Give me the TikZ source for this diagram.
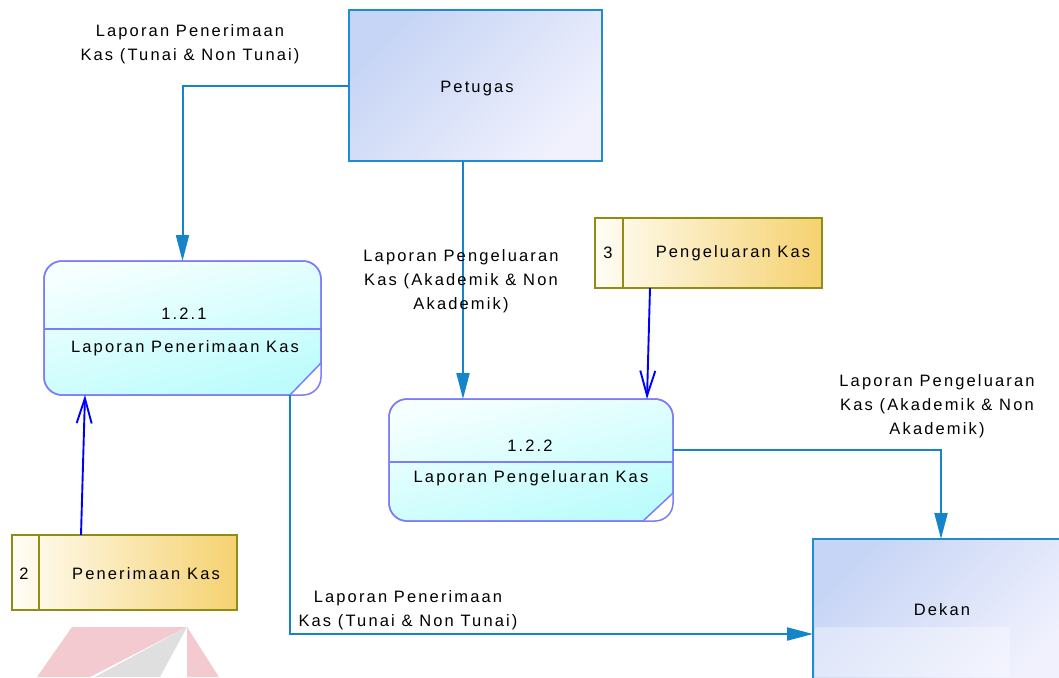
\documentclass[tikz,border=0pt]{standalone}
\usepackage{fontspec}
\setmainfont{Liberation Sans}[LetterSpace=13]
\usetikzlibrary{arrows.meta}

% palette
\definecolor{flowc}{RGB}{22,132,200}
\definecolor{dataflow}{RGB}{0,0,250}
\definecolor{entline}{RGB}{30,140,205}
\definecolor{entA}{RGB}{198,212,245}
\definecolor{entB}{RGB}{240,241,253}
\definecolor{procline}{RGB}{125,125,250}
\definecolor{procA}{RGB}{246,255,255}
\definecolor{procB}{RGB}{188,252,252}
\definecolor{storeline}{RGB}{145,140,20}
\definecolor{storeA}{RGB}{255,253,246}
\definecolor{storeB}{RGB}{245,210,112}
\definecolor{markpink}{RGB}{243,202,207}
\definecolor{markgray}{RGB}{223,223,223}

\tikzset{
  entity/.style={draw=entline, line width=1.6pt, top color=entA, bottom color=entB,
    shading angle=45, inner sep=0pt, outer sep=0pt},
  proc/.style={draw=procline, line width=1.5pt, rounded corners=18pt,
    top color=procA, bottom color=procB, shading angle=15,
    inner sep=0pt, outer sep=0pt},
  procedge/.style={draw=procline, line width=1.5pt},
  store/.style={draw=storeline, line width=1.6pt, left color=storeA, right color=storeB,
    inner sep=0pt, outer sep=0pt},
  storeedge/.style={draw=storeline, line width=1.6pt},
  txt/.style={inner sep=0pt, text=black},
  flow/.style={draw=flowc, line width=2pt, -{Triangle[length=26pt,width=13pt]}},
  dflow/.style={draw=dataflow, line width=1.9pt, -{Straight Barb[length=25pt,width=15pt]}},
}

\begin{document}
\begin{tikzpicture}[x=1pt, y=-1pt, font=\fontsize{16.5}{24}\selectfont]
\useasboundingbox (0,0) rectangle (1059,677);
\clip (0,0) rectangle (1059,677);

% faint logo in the lower left corner
\fill[markpink] (72,627) -- (187,627) -- (90,677) -- (37,677) -- cycle;
\fill[markgray] (187,627) -- (95,677) -- (160,677) -- cycle;
\fill[markpink] (187,627) -- (187,677) -- (219,677) -- cycle;

% external entities
\node[entity, minimum width=253pt, minimum height=151pt] (pet) at (475.5,85.5) {};
\node[txt] at (477,89) {Petugas};
\node[entity, minimum width=256pt, minimum height=142pt] (dek) at (941,610) {};
\fill[white, opacity=0.35] (815,627) rectangle (1010,677);
\node[txt] at (942,610) {Dekan};

% data stores
\node[store, minimum width=227pt, minimum height=70pt] (s3) at (708.5,253) {};
\draw[storeedge] ([xshift=28pt]s3.north west) -- ([xshift=28pt]s3.south west);
\node[txt] at (608,253) {3};
\node[txt] at (733,253) {Pengeluaran Kas};

\node[store, minimum width=225pt, minimum height=75pt] (s2) at (124.5,572.5) {};
\draw[storeedge] ([xshift=27pt]s2.north west) -- ([xshift=27pt]s2.south west);
\node[txt] at (24,574) {2};
\node[txt] at (146,574) {Penerimaan Kas};

% processes (rounded boxes with a cut lower right corner)
\node[proc, minimum width=277pt, minimum height=134pt] (p1) at (182.5,328) {};
\fill[white] ([yshift=32pt]p1.south east) -- ([xshift=-31pt]p1.south east)
  -- ([xshift=3pt,yshift=-3pt]p1.south east) -- cycle;
\draw[procedge, rounded corners=18pt] (p1.north west) rectangle (p1.south east);
\draw[procedge] ([yshift=32pt]p1.south east) -- ([xshift=-31pt]p1.south east);
\draw[procedge] ([yshift=-1pt]p1.west) -- ([yshift=-1pt]p1.east);
\node[txt] at (184,314) {1.2.1};
\node[txt] at (185,348) {Laporan Penerimaan Kas};

\node[proc, minimum width=284pt, minimum height=122pt] (p2) at (531,460) {};
\fill[white] ([yshift=28pt]p2.south east) -- ([xshift=-30pt]p2.south east)
  -- ([xshift=3pt,yshift=-3pt]p2.south east) -- cycle;
\draw[procedge, rounded corners=18pt] (p2.north west) rectangle (p2.south east);
\draw[procedge] ([yshift=28pt]p2.south east) -- ([xshift=-30pt]p2.south east);
\draw[procedge] ([yshift=-2pt]p2.west) -- ([yshift=-2pt]p2.east);
\node[txt] at (530,446) {1.2.2};
\node[txt] at (531,478) {Laporan Pengeluaran Kas};

% flows
\draw[flow] (pet.west) -| (p1.north);
\draw[flow] ([xshift=-12.5pt]pet.south) -- ([xshift=-68pt]p2.north);
\draw[dflow] ([xshift=-58.5pt]s3.south) -- ([xshift=116pt]p2.north);
\draw[dflow] ([xshift=-43.5pt]s2.north) -- ([xshift=-97.5pt]p1.south);
\draw[flow] ([yshift=10pt]p2.east) -| (dek.north);
\draw[flow] ([xshift=107.5pt]p1.south) |- ([yshift=-24pt]dek.west);

% flow labels
\node[txt, align=center] (lb1) at (190,44) {Laporan Penerimaan\\Kas (Tunai \& Non Tunai)};
\node[txt, align=center] (lb2) at (461,281) {Laporan Pengeluaran\\Kas (Akademik \& Non\\Akademik)};
\node[txt, align=center] (lb3) at (937,406) {Laporan Pengeluaran\\Kas (Akademik \& Non\\Akademik)};
\node[txt, align=center] (lb4) at (408,610) {Laporan Penerimaan\\Kas (Tunai \& Non Tunai)};
\end{tikzpicture}
\end{document}
